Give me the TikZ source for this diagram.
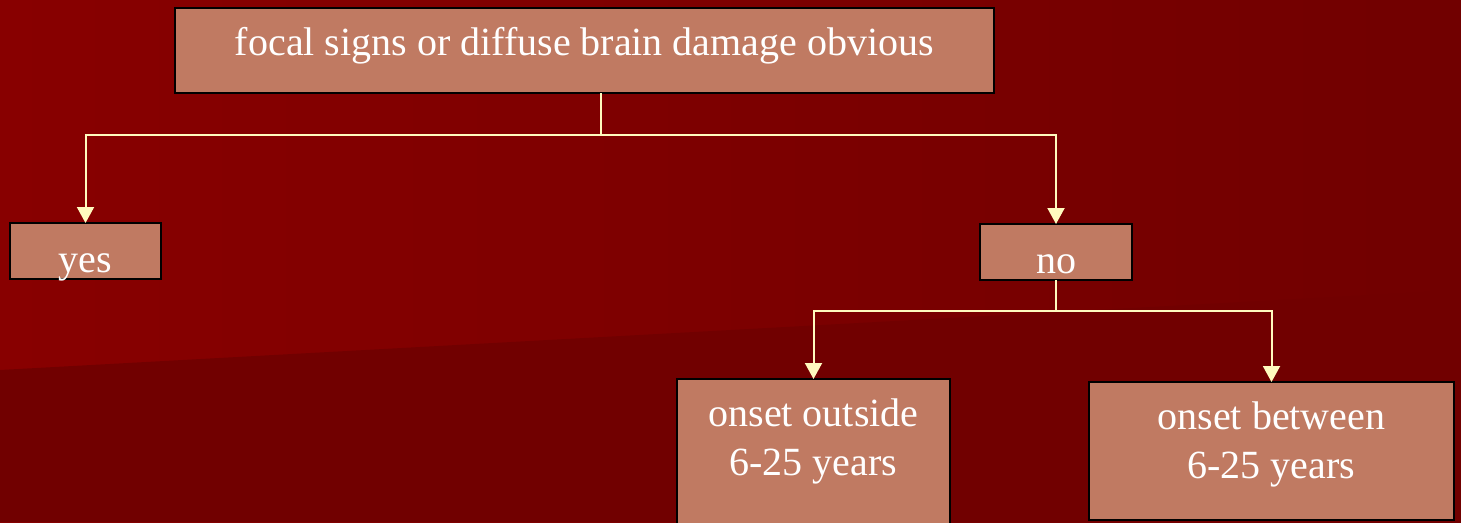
\documentclass[tikz,border=0pt]{standalone}
\usepackage{fontspec}
\setmainfont{Liberation Serif}
\usetikzlibrary{arrows.meta}
\definecolor{bgL}{RGB}{136,0,0}
\definecolor{bgR}{RGB}{113,0,0}
\definecolor{bgD}{RGB}{113,0,0}
\definecolor{boxfill}{RGB}{192,122,98}
\definecolor{conn}{RGB}{255,250,190}
\begin{document}
\begin{tikzpicture}[x=1pt,y=-1pt,
  box/.style={draw=black,line width=1.5pt,fill=boxfill,text=white,
    font=\fontsize{40}{49}\selectfont,inner sep=0pt,outer sep=0pt,
    anchor=north west,align=center},
  link/.style={draw=conn,line width=2pt},
  arr/.style={link,-{Triangle[width=17pt,length=16pt]}}]
\useasboundingbox (0,0) rectangle (1461,522);
\shade[left color=bgL,right color=bgR] (0,0) rectangle (1461,522);
\fill[bgD] (0,370) -- (1461,290) -- (1461,522) -- (0,522) -- cycle;

\node[box,minimum width=819pt,text height=47pt,text depth=38pt] (top) at (175,8)
  {focal signs or diffuse brain damage obvious};
\node[box,minimum width=151pt,text height=49pt,text depth=7pt] (yes) at (10,223) {yes};
\node[box,minimum width=152pt,text height=49pt,text depth=7pt] (no) at (980,224) {no};
\node[box,minimum width=273pt,text height=96pt,text depth=49pt] (out) at (677,379)
  {onset outside\\6-25 years};
\node[box,minimum width=365pt,text height=96pt,text depth=42pt] (btw) at (1089,382)
  {onset between\\6-25 years};

\coordinate (j1) at (601,135);
\coordinate (j2) at (1056,311);
\draw[link,line width=1.5pt] (j1 |- top.south) -- (j1);
\draw[arr] (j1) -| (yes.north);
\draw[arr] (j1) -| (no.north);
\draw[link,line width=1.5pt] (no.south) -- (j2);
\draw[arr] (j2) -| (out.north);
\draw[arr] (j2) -| (btw.north);
\end{tikzpicture}
\end{document}
